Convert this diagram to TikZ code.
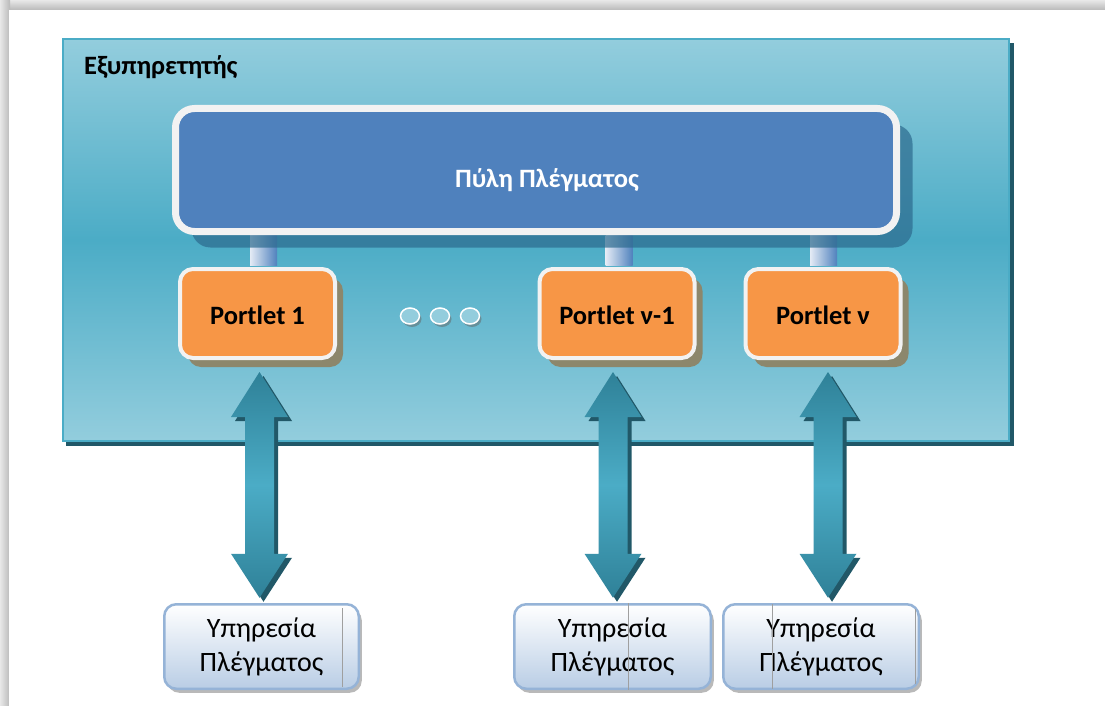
\documentclass[tikz,border=0pt]{standalone}
\usepackage{fontspec}
\setmainfont{Carlito}
\usetikzlibrary{calc,shadows,shapes.geometric}

\definecolor{srvlight}{HTML}{93CDDD}
\definecolor{srvmid}{HTML}{4BACC6}
\definecolor{srvdark}{HTML}{215868}
\definecolor{gwblue}{HTML}{4F81BD}
\definecolor{rimwhite}{HTML}{F2F2F2}
\definecolor{gwshade}{HTML}{2C6A8E}
\definecolor{portorange}{HTML}{F79646}
\definecolor{portshade}{HTML}{8C876C}
\definecolor{arrowdark}{HTML}{2F8198}
\definecolor{arrowlight}{HTML}{4BACC6}
\definecolor{svcrim}{HTML}{95B3D7}
\definecolor{svcbottom}{HTML}{B9CDE5}
\definecolor{barlight}{HTML}{E4EBF5}

\pgfdeclarelayer{back}
\pgfdeclarelayer{bars}
\pgfsetlayers{back,bars,main}

% double-headed block arrow between two tip coordinates
\newcommand\drawdblarrow[3]{%
  \path[#3] (#1) -- ($(#1)+(28.5,45)$) -- ($(#1)+(14.5,45)$)
    -- ($(#2)+(14.5,-44)$) -- ($(#2)+(28.5,-44)$) -- (#2)
    -- ($(#2)+(-28.5,-44)$) -- ($(#2)+(-14.5,-44)$)
    -- ($(#1)+(-14.5,45)$) -- ($(#1)+(-28.5,45)$) -- cycle;}

% gradient bar joining the gateway to a portlet
\newcommand\linkbar[2]{%
  \shade[left color=barlight, right color=gwblue]
    ($(#1.north)+(#2-13.5,-2)$) rectangle ($(#1.north |- gw.south)+(#2+13.5,0)$);}

\tikzset{
  boldtext/.style={font=\fontsize{26.5}{34}\selectfont\bfseries},
  serverbox/.style={rectangle, draw=srvmid, line width=2pt, inner sep=0pt,
    top color=srvlight, bottom color=srvlight, middle color=srvmid},
  gatewaybox/.style={rectangle, rounded corners=19pt, draw=rimwhite, line width=7pt,
    fill=gwblue, inner sep=0pt, text=white, boldtext, text height=34pt, text depth=0pt},
  portletbox/.style={rectangle, rounded corners=13pt, draw=rimwhite, line width=4pt,
    fill=portorange, inner sep=0pt, minimum width=155pt, minimum height=89pt,
    boldtext, text height=21pt, text depth=0pt,
    drop shadow={shadow xshift=8pt, shadow yshift=-9pt, fill=portshade, opacity=1}},
  dotnode/.style={ellipse, draw=white, line width=1.5pt, fill=srvlight,
    minimum width=19pt, minimum height=16pt, inner sep=0pt,
    drop shadow={shadow xshift=2pt, shadow yshift=-3pt, fill=gray!70!srvdark, opacity=.6}},
  svcbox/.style={rectangle, rounded corners=12pt, draw=svcrim, line width=2.5pt,
    top color=white, bottom color=svcbottom, inner sep=0pt, minimum height=84.5pt,
    align=center, font=\fontsize{28}{34}\selectfont,
    drop shadow={shadow xshift=3pt, shadow yshift=-4pt, fill=gray!60, opacity=.9}},
  arrowbody/.style={top color=arrowdark, bottom color=arrowdark, middle color=arrowlight},
  arrowshadow/.style={fill=srvdark, transform canvas={xshift=4pt, yshift=-4pt}},
  artline/.style={line width=0.6pt, draw=gray!75},
}

\begin{document}
\begin{tikzpicture}[x=1pt, y=-1pt]
\useasboundingbox (0,0) rectangle (1105,706);

% page with its soft edge shadow
\begin{pgfonlayer}{back}
  \fill[gray!30] (0,0) rectangle (1105,706);
  \shade[top color=gray!18, bottom color=gray!55] (0,0) rectangle (1105,10);
  \shade[left color=gray!18, right color=gray!55] (0,0) rectangle (10,706);
  \fill[white] (9,10) rectangle (1105,706);

  % server frame
  \fill[srvdark] (66,43) rectangle (1014,446);
  \node[serverbox, minimum width=946pt, minimum height=402pt] (srv) at (536,240) {};
  \node[anchor=base west, inner sep=0pt, boldtext] (srvlabel)
    at (84,75) {Εξυπηρετητής};
\end{pgfonlayer}

% grid gateway
\node[gatewaybox, minimum width=721pt, minimum height=123pt,
  drop shadow={shadow xshift=16pt, shadow yshift=-16pt, fill=gwshade, opacity=.7}]
  (gw) at (536,170) {\hspace*{22pt}Πύλη Πλέγματος};

% portlets
\node[portletbox] (p1) at (257.5,313.5) {Portlet 1};
\node[portletbox] (p2) at (617,313.5) {Portlet ν-1};
\node[portletbox] (p3) at (823,313.5) {Portlet ν};

\begin{pgfonlayer}{bars}
  \linkbar{p1}{6}
  \linkbar{p2}{2}
  \linkbar{p3}{0.5}
\end{pgfonlayer}

% ellipsis between the portlets
\node[dotnode] (d1) at (410,316) {};
\node[dotnode] (d2) at (440,316) {};
\node[dotnode] (d3) at (470,316) {};

% grid services
\node[svcbox, minimum width=194.5pt] (s1) at (261.5,646.5) {\raisebox{-2pt}{Υπηρεσία}\\\raisebox{-2pt}{Πλέγματος}};
\node[svcbox, minimum width=196.5pt] (s2) at (612.5,646.5) {\raisebox{-2pt}{Υπηρεσία}\\\raisebox{-2pt}{Πλέγματος}};
\node[svcbox, minimum width=195.5pt] (s3) at (821,646.5) {\raisebox{-2pt}{Υπηρεσία}\\\raisebox{-2pt}{Πλέγματος}};

\draw[artline] ($(s1.north)+(81,5)$) -- ($(s1.south)+(81,-3)$);
\draw[artline] ($(s2.north)+(15.5,0)$) -- ($(s2.south)+(15.5,0)$);
\draw[artline] ($(s3.north)+(-49,1)$) -- ($(s3.south)+(-49,-1)$);
\draw[artline] ($(s3.north)+(94,6)$) -- ($(s3.south)+(94,-6)$);

% arrows between portlets and services
\coordinate (a1t) at ($(p1.south)+(2,12)$);
\coordinate (a1b) at ($(a1t |- s1.north)+(0,-5.25)$);
\coordinate (a2t) at ($(p2.south)+(-4,12)$);
\coordinate (a2b) at ($(a2t |- s2.north)+(0,-5.25)$);
\coordinate (a3t) at ($(p3.south)+(5,12)$);
\coordinate (a3b) at ($(a3t |- s3.north)+(0,-5.25)$);

\drawdblarrow{a1t}{a1b}{arrowshadow}
\drawdblarrow{a2t}{a2b}{arrowshadow}
\drawdblarrow{a3t}{a3b}{arrowshadow}
\drawdblarrow{a1t}{a1b}{arrowbody}
\drawdblarrow{a2t}{a2b}{arrowbody}
\drawdblarrow{a3t}{a3b}{arrowbody}
\end{tikzpicture}
\end{document}
